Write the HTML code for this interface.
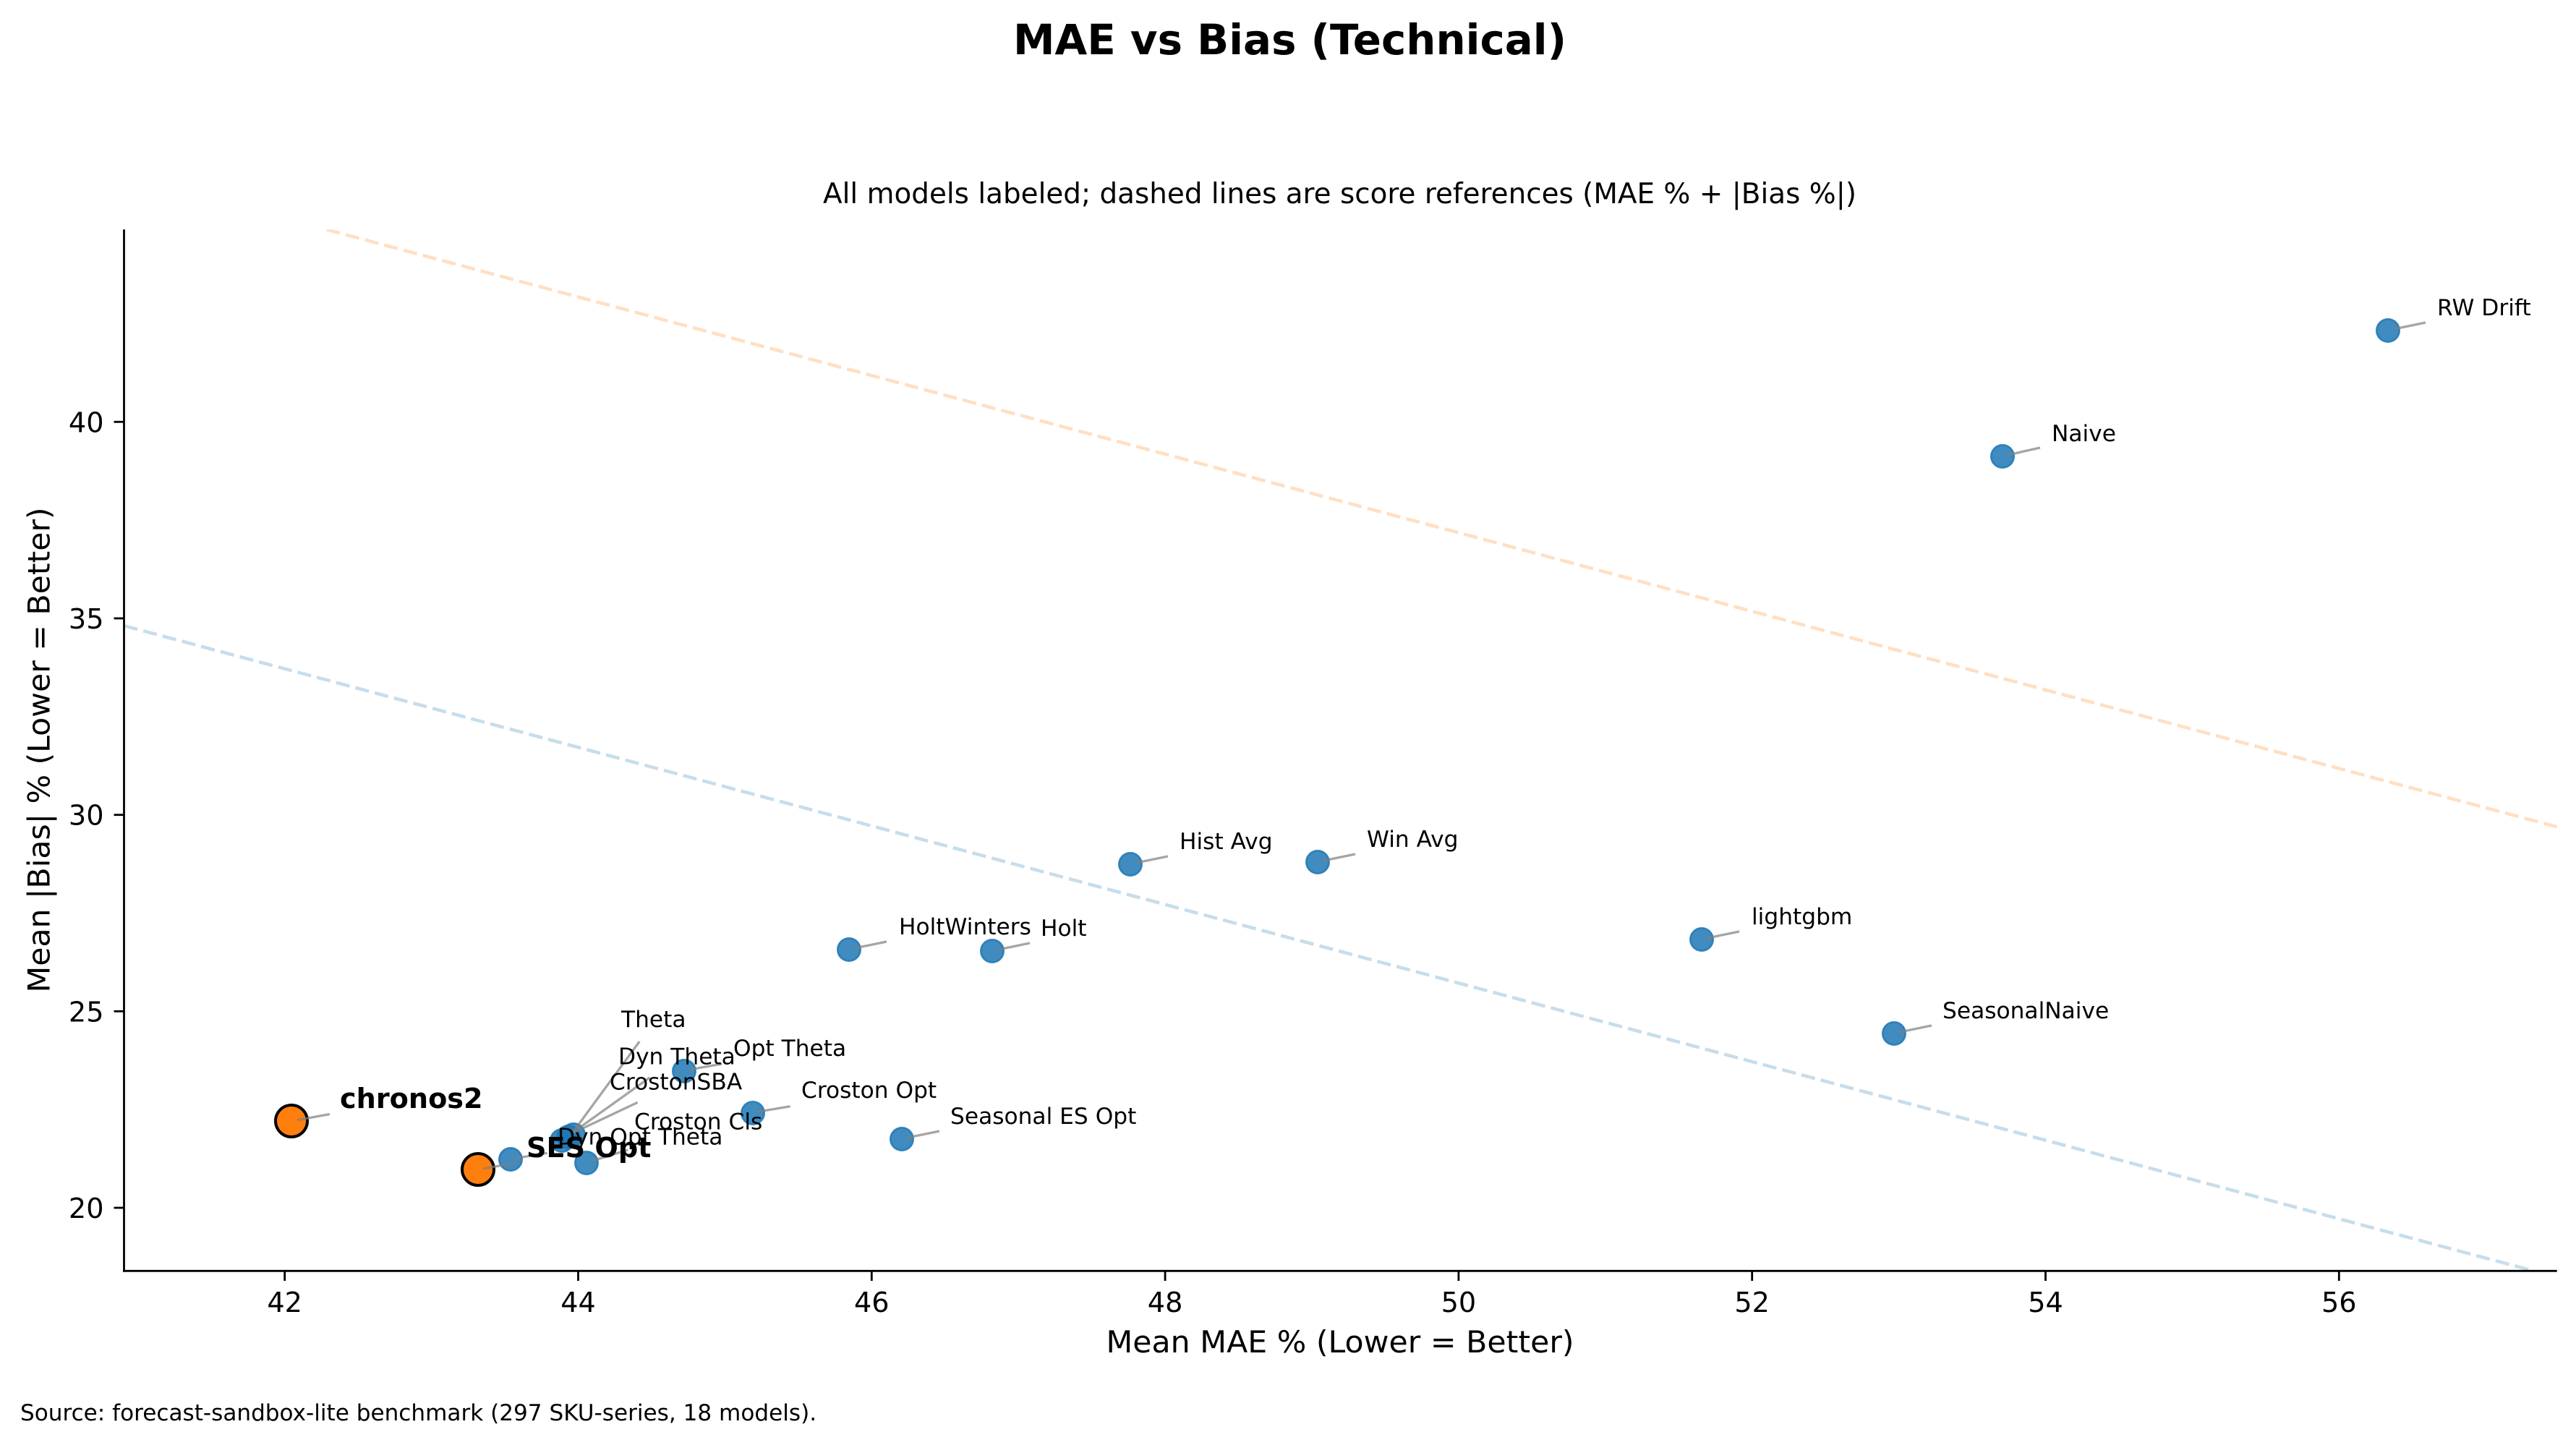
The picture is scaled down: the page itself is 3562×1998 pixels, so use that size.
<!DOCTYPE html>
<html>
<head>
<meta charset="utf-8">
<style>
  html, body { margin: 0; padding: 0; background: #ffffff; }
  svg { display: block; }
  text { font-family: "DejaVu Sans", "Liberation Sans", sans-serif; fill: #000; }
</style>
</head>
<body>
<svg xmlns="http://www.w3.org/2000/svg" width="3562" height="1998" viewBox="0 0 3562 1998">
  <rect x="0" y="0" width="3562" height="1998" fill="#ffffff"/>

  <!-- Titles -->
  <text x="1401" y="75" font-size="58" font-weight="bold" textLength="765" lengthAdjust="spacingAndGlyphs">MAE vs Bias (Technical)</text>
  <text x="1138" y="281" font-size="38.8" textLength="1429" lengthAdjust="spacingAndGlyphs">All models labeled; dashed lines are score references (MAE % + |Bias %|)</text>

  <defs>
    <clipPath id="ax">
      <rect x="171.5" y="317.3" width="3364.2" height="1440"/>
    </clipPath>
  </defs>

  <!-- Reference dashed lines -->
  <g clip-path="url(#ax)" fill="none">
    <line x1="171.5" y1="865.2" x2="3504.2" y2="1757.5" stroke="#1f77b4" stroke-opacity="0.25" stroke-width="4.6" stroke-dasharray="19.3 8.3"/>
    <line x1="451.3" y1="317.3" x2="3535.7" y2="1143.3" stroke="#ff7f0e" stroke-opacity="0.25" stroke-width="4.6" stroke-dasharray="19.3 8.3"/>
  </g>

  <!-- Blue points -->
  <g fill="#1f77b4" fill-opacity="0.85" stroke="#1f77b4" stroke-opacity="0.85" stroke-width="2.5">
    <circle cx="3302" cy="457" r="15.75"/>
    <circle cx="2769" cy="631" r="15.75"/>
    <circle cx="1563" cy="1195" r="15.75"/>
    <circle cx="1822" cy="1192" r="15.75"/>
    <circle cx="2353" cy="1299" r="15.75"/>
    <circle cx="2619" cy="1429" r="15.75"/>
    <circle cx="1174" cy="1313" r="15.75"/>
    <circle cx="1372" cy="1315" r="15.75"/>
    <circle cx="1247" cy="1575" r="15.75"/>
    <circle cx="1041" cy="1539" r="15.75"/>
    <circle cx="946" cy="1481" r="15.75"/>
    <circle cx="706" cy="1603" r="15.75"/>
    <circle cx="811" cy="1608" r="15.75"/>
    <circle cx="777" cy="1577" r="15.75"/>
    <circle cx="786" cy="1572" r="15.75"/>
    <circle cx="793" cy="1569" r="15.75"/>
  </g>

  <!-- Orange highlighted points -->
  <g fill="#ff7f0e" stroke="#000000" stroke-width="4">
    <circle cx="403" cy="1550" r="22"/>
    <circle cx="661" cy="1617" r="22"/>
  </g>

  <!-- Connectors -->
  <g stroke="#7f7f7f" stroke-opacity="0.7" stroke-width="3.3" fill="none">
    <line x1="3309" y1="455.2" x2="3354" y2="446"/>
    <line x1="2776" y1="629.2" x2="2821" y2="619"/>
    <line x1="1570" y1="1193.2" x2="1615" y2="1184"/>
    <line x1="1829" y1="1190.2" x2="1874" y2="1181"/>
    <line x1="2360" y1="1297.2" x2="2405" y2="1288"/>
    <line x1="2626" y1="1427.2" x2="2671" y2="1418"/>
    <line x1="1181" y1="1311.2" x2="1226" y2="1302"/>
    <line x1="1379" y1="1313.2" x2="1424" y2="1304"/>
    <line x1="1254" y1="1573.2" x2="1299" y2="1564"/>
    <line x1="1047.7" y1="1537.3" x2="1092.7" y2="1529.7"/>
    <line x1="953.3" y1="1479" x2="998.3" y2="1471"/>
    <line x1="793.3" y1="1564" x2="884.3" y2="1440"/>
    <line x1="793.3" y1="1565" x2="898.3" y2="1490"/>
    <line x1="793.3" y1="1566" x2="881.7" y2="1524.3"/>
    <line x1="711.7" y1="1601.7" x2="756.7" y2="1594.3"/>
    <line x1="817.3" y1="1605.7" x2="868" y2="1590"/>
    <line x1="668.3" y1="1616" x2="713.3" y2="1607.7"/>
    <line x1="410.9" y1="1548.8" x2="456" y2="1540.5"/>
  </g>

  <!-- Point labels -->
  <g font-size="31.25">
    <text x="3370" y="436">RW Drift</text>
    <text x="2837" y="610">Naive</text>
    <text x="1631" y="1174">Hist Avg</text>
    <text x="1890" y="1171">Win Avg</text>
    <text x="2422" y="1278">lightgbm</text>
    <text x="2686" y="1408">SeasonalNaive</text>
    <text x="1243" y="1292">HoltWinters</text>
    <text x="1439" y="1294">Holt</text>
    <text x="1314" y="1554">Seasonal ES Opt</text>
    <text x="1108" y="1518">Croston Opt</text>
    <text x="1014" y="1460">Opt Theta</text>
    <text x="859" y="1420">Theta</text>
    <text x="855" y="1471.7">Dyn Theta</text>
    <text x="843" y="1506.7">CrostonSBA</text>
    <text x="877" y="1561.7">Croston Cls</text>
    <text x="771" y="1582.7">Dyn Opt Theta</text>
  </g>
  <g font-size="38.2" font-weight="bold">
    <text x="470" y="1532">chronos2</text>
    <text x="728" y="1600">SES Opt</text>
  </g>

  <!-- Axes spines -->
  <g stroke="#000" stroke-width="2.8" fill="none">
    <line x1="171.5" y1="317.3" x2="171.5" y2="1758.7"/>
    <line x1="170.1" y1="1757.3" x2="3535.7" y2="1757.3"/>
  </g>

  <!-- X ticks -->
  <g stroke="#000" stroke-width="2.8">
    <line x1="393.7" y1="1757.3" x2="393.7" y2="1771"/>
    <line x1="799.5" y1="1757.3" x2="799.5" y2="1771"/>
    <line x1="1205.3" y1="1757.3" x2="1205.3" y2="1771"/>
    <line x1="1611.1" y1="1757.3" x2="1611.1" y2="1771"/>
    <line x1="2016.9" y1="1757.3" x2="2016.9" y2="1771"/>
    <line x1="2422.7" y1="1757.3" x2="2422.7" y2="1771"/>
    <line x1="2828.5" y1="1757.3" x2="2828.5" y2="1771"/>
    <line x1="3234.3" y1="1757.3" x2="3234.3" y2="1771"/>
  </g>
  <g font-size="38.2" text-anchor="middle">
    <text x="393.7" y="1814">42</text>
    <text x="799.5" y="1814">44</text>
    <text x="1205.3" y="1814">46</text>
    <text x="1611.1" y="1814">48</text>
    <text x="2016.9" y="1814">50</text>
    <text x="2422.7" y="1814">52</text>
    <text x="2828.5" y="1814">54</text>
    <text x="3234.3" y="1814">56</text>
  </g>

  <!-- Y ticks -->
  <g stroke="#000" stroke-width="2.8">
    <line x1="157.5" y1="1670" x2="171.5" y2="1670"/>
    <line x1="157.5" y1="1398.3" x2="171.5" y2="1398.3"/>
    <line x1="157.5" y1="1126.7" x2="171.5" y2="1126.7"/>
    <line x1="157.5" y1="855" x2="171.5" y2="855"/>
    <line x1="157.5" y1="583.3" x2="171.5" y2="583.3"/>
  </g>
  <g font-size="38.2" text-anchor="end">
    <text x="143.5" y="1684">20</text>
    <text x="143.5" y="1412.3">25</text>
    <text x="143.5" y="1140.7">30</text>
    <text x="143.5" y="869">35</text>
    <text x="143.5" y="597.3">40</text>
  </g>

  <!-- Axis labels -->
  <text x="1853" y="1870" font-size="41.7" text-anchor="middle" textLength="647" lengthAdjust="spacingAndGlyphs">Mean MAE % (Lower = Better)</text>
  <text transform="translate(68.5,1037) rotate(-90)" x="0" y="0" font-size="41.7" text-anchor="middle" textLength="671" lengthAdjust="spacingAndGlyphs">Mean |Bias| % (Lower = Better)</text>

  <!-- Source -->
  <text x="28" y="1964" font-size="31.1">Source: forecast-sandbox-lite benchmark (297 SKU-series, 18 models).</text>
</svg>
</body>
</html>
